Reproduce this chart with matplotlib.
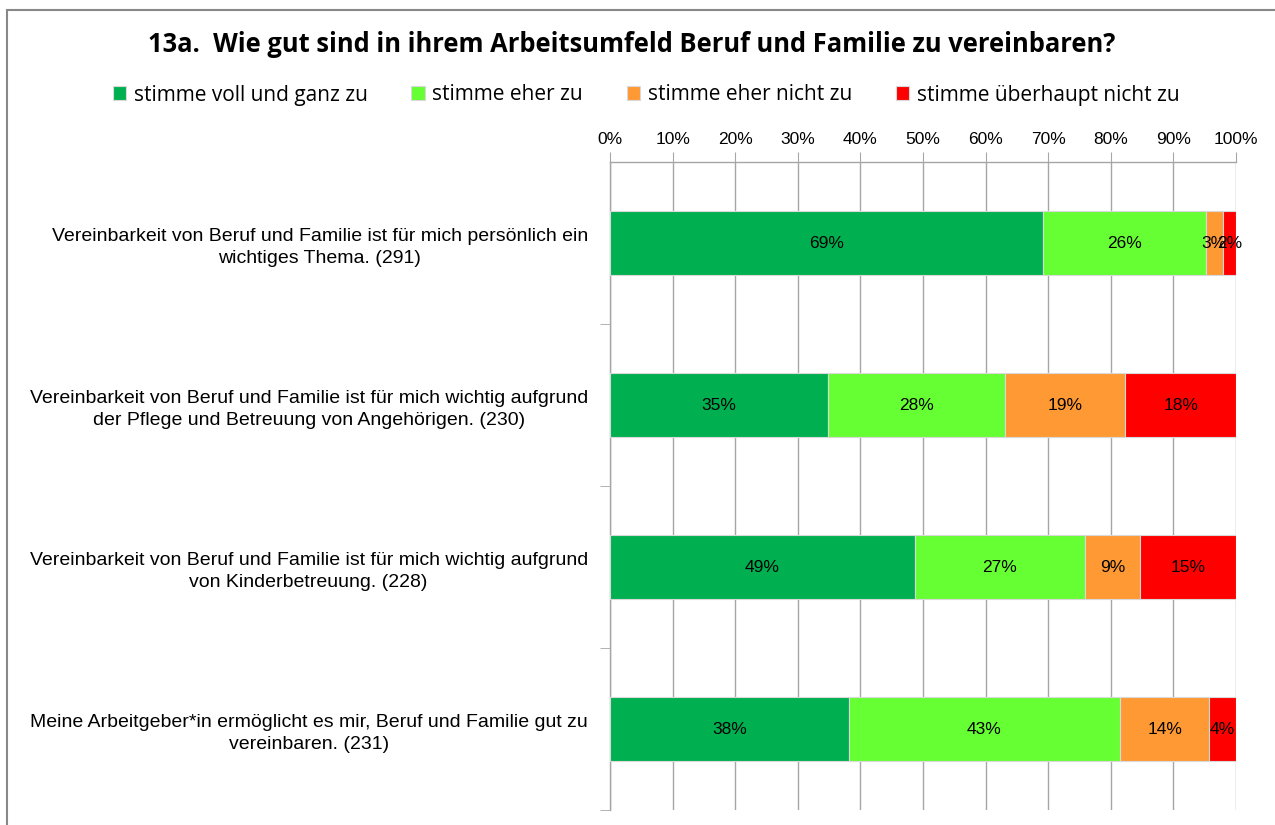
import numpy as np
import matplotlib
matplotlib.use('Agg')
import matplotlib.pyplot as plt
from matplotlib.patches import Rectangle

# --- data (shares in %) ---
categories = [
    'Vereinbarkeit von Beruf und Familie ist für mich persönlich ein\nwichtiges Thema. (291)',
    'Vereinbarkeit von Beruf und Familie ist für mich wichtig aufgrund\nder Pflege und Betreuung von Angehörigen. (230)',
    'Vereinbarkeit von Beruf und Familie ist für mich wichtig aufgrund\nvon Kinderbetreuung. (228)',
    'Meine Arbeitgeber*in ermöglicht es mir, Beruf und Familie gut zu\nvereinbaren. (231)',
]
series_names = ['stimme voll und ganz zu', 'stimme eher zu',
                'stimme eher nicht zu', 'stimme überhaupt nicht zu']
voll = [69.1, 34.8, 48.7, 38.1]
eher = [26.1, 28.3, 27.1, 43.4]
eher_nicht = [2.7, 19.2, 8.9, 14.2]
gar_nicht = [2.1, 17.7, 15.3, 4.3]
x_ticks = [0, 10, 20, 30, 40, 50, 60, 70, 80, 90, 100]

series = [voll, eher, eher_nicht, gar_nicht]
colors_ = ['#00B050', '#66FF33', '#FF9933', '#FF0000']

narrow = ['Liberation Sans Narrow', 'Liberation Sans', 'DejaVu Sans']
grid_col = '#A6A6A6'

fig = plt.figure(figsize=(12.75, 8.25), dpi=100)
W, H = 1275, 825
ax = fig.add_axes([610 / W, 1 - 810 / H, (1236 - 610) / W, (810 - 162) / H])

y = np.arange(len(categories))
left = np.zeros(len(categories))
handles = []
for vals, col, name in zip(series, colors_, series_names):
    vals = np.array(vals)
    bars = ax.barh(y, vals, left=left, height=0.4, color=col,
                   edgecolor='#D9D9D9', linewidth=0.8, label=name, zorder=3)
    handles.append(bars)
    for yi, l, v in zip(y, left, vals):
        ax.text(l + v / 2, yi, f'{v:.0f}%', ha='center', va='center',
                fontsize=12.5, family=narrow, color='black', zorder=4)
    left += vals

ax.set_xlim(0, 100)
ax.set_ylim(len(categories) - 0.5, -0.5)

# x axis on top
ax.xaxis.tick_top()
ax.set_xticks(x_ticks)
ax.set_xticklabels([f'{t}%' for t in x_ticks], family=narrow, fontsize=12.5)
ax.tick_params(axis='x', direction='out', length=7, color=grid_col, pad=4)
ax.grid(axis='x', color=grid_col, linewidth=1, zorder=0)
ax.set_axisbelow(True)

# y axis: labels at centres, ticks at category boundaries
ax.set_yticks(y)
ax.set_yticklabels(categories, family=narrow, fontsize=14,
                   multialignment='center', linespacing=1.35)
ax.tick_params(axis='y', which='major', length=0, pad=16)
ax.set_yticks(np.arange(0.5, len(categories), 1), minor=True)
ax.tick_params(axis='y', which='minor', length=7, color=grid_col, direction='out')

for s in ['right', 'bottom']:
    ax.spines[s].set_visible(False)
for s in ['top', 'left']:
    ax.spines[s].set_color(grid_col)
    ax.spines[s].set_linewidth(1)

# title and legend
fig.text(632 / W, 1 - 44 / H,
         '13a.  Wie gut sind in ihrem Arbeitsumfeld Beruf und Familie zu vereinbaren?',
         ha='center', va='center', fontsize=18.4, fontweight='bold', family='Open Sans')
fig.legend(handles, series_names, loc='center', bbox_to_anchor=(646 / W, 1 - 95 / H),
           ncol=4, frameon=False, prop={'family': 'Open Sans', 'size': 15},
           handlelength=0.65, handleheight=0.65, handletextpad=0.36,
           columnspacing=2.1)

# chart border
fig.patches.append(Rectangle((7 / W, -0.05), 1.1, 1 - 10 / H + 0.05,
                             transform=fig.transFigure, fill=False,
                             edgecolor='#888888', linewidth=1.5))

fig.savefig('out.png', dpi=100)
